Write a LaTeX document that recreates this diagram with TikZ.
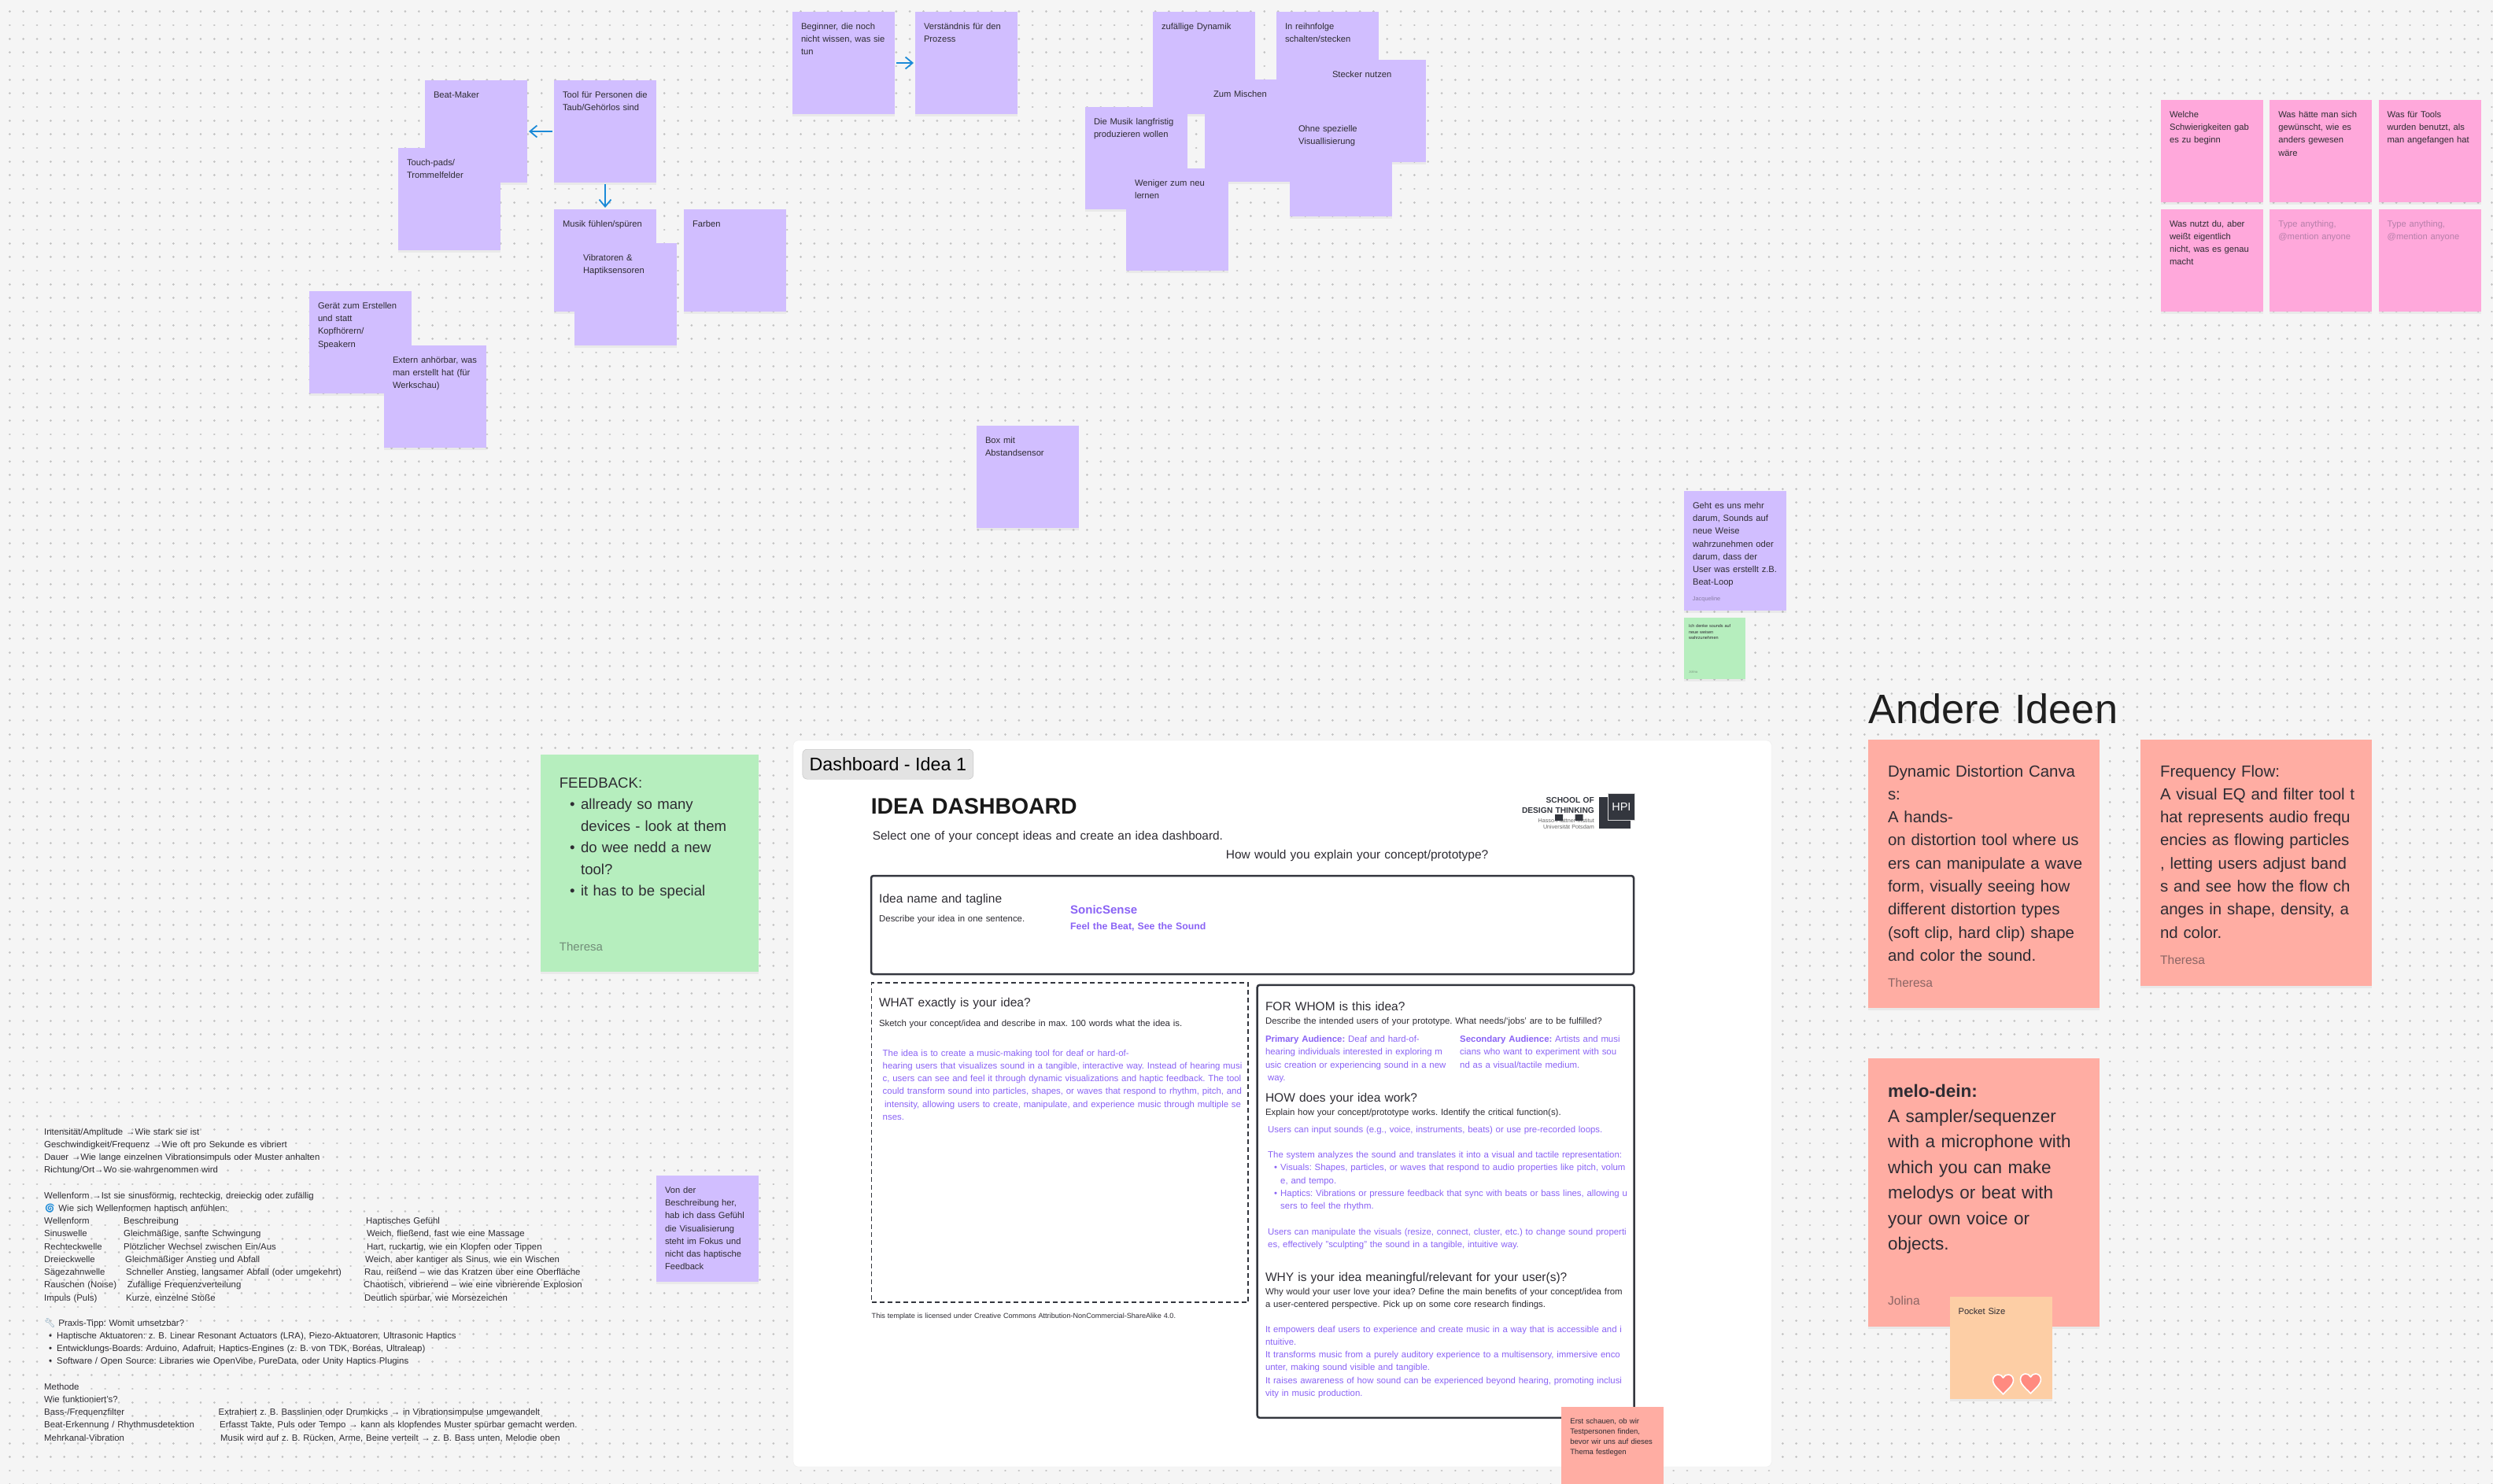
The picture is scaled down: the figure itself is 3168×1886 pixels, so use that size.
\documentclass[tikz,border=0pt]{standalone}
\usepackage{fontspec}
\setmainfont{Liberation Sans}
\newfontfamily\emojifont{Noto Emoji}
\usepackage{tikz}
\usetikzlibrary{arrows.meta, positioning, shadows}
\definecolor{canvas}    {HTML}{F5F5F5}
\definecolor{griddot}   {HTML}{C2C2C2}
\definecolor{lilac}     {HTML}{D1BEFF}
\definecolor{rosa}      {HTML}{FFA8DB}
\definecolor{mint}      {HTML}{B6EEBE}
\definecolor{salmon}    {HTML}{FFADA3}
\definecolor{peach}     {HTML}{FDCEA5}
\definecolor{heartred}  {HTML}{FF8A80}
\definecolor{arrowblue} {HTML}{1B8AD8}
\definecolor{ink}       {HTML}{2E2C33}
\definecolor{panelline} {HTML}{33363E}
\definecolor{violet}    {HTML}{8A63F5}
\definecolor{hint}      {HTML}{B67FAA}
\newcommand{\bulleted}[2]{\hspace*{#1pt}\makebox[#2pt][l]{\textbullet}}
\frenchspacing
\begin{document}
\begin{tikzpicture}[
    x=1pt, y=-1pt,
    dotrow/.style={griddot, line width=2.8pt, line cap=round, dash pattern=on 0.1pt off 17.23pt},
    padtext/.style={execute at begin node={\leftskip=#1pt}},
    sticky/.style={anchor=north west, inner xsep=4pt, inner ysep=0pt, outer sep=0pt,
                text width=122pt, align=left, minimum height=130pt, fill=lilac, text=ink,
                padtext=7, text height=22.5pt, text depth=107.5pt,
                font=\fontsize{11.2}{16.2}\selectfont,
                drop shadow={shadow xshift=0pt, shadow yshift=-3pt, opacity=.1}},
    card/.style={sticky, inner xsep=10pt, text width=274pt, fill=salmon, padtext=15,
                text height=47pt, text depth=294pt,
                font=\fontsize{20.4}{29.33}\selectfont},
    author/.style={anchor=base west, inner sep=0pt, text width=100pt, align=left,
                text=ink!55!salmon, font=\fontsize{15.5}{18}\selectfont},
    txt/.style={anchor=base west, inner sep=0pt, text width=470pt, align=left, text=ink},
    bodytxt/.style={txt, font=\fontsize{11.4}{16.25}\selectfont},
    smalltxt/.style={txt, font=\fontsize{11.4}{16.25}\selectfont},
    headtxt/.style={txt, font=\fontsize{15.5}{18}\selectfont},
    violettxt/.style={smalltxt, text=violet},
    panel/.style={anchor=north west, draw=panelline, line width=2.5pt, rounded corners=3pt,
                inner sep=0pt, outer sep=0pt, fill=white},
    arr/.style={arrowblue, line width=1.8pt, shorten >=2pt, shorten <=2pt,
                -{Straight Barb[length=9pt, width=15pt]}},
    heart/.style={fill=heartred, draw=white, line width=1.6pt, line join=round},
  ]
    \useasboundingbox (0,0) rectangle (3168,1886);
    \fill[canvas] (0,0) rectangle (3168,1886);
    \foreach \r in {0,...,108}
      \draw[dotrow] (12.33,{14.67+17.33*\r}) -- (3168,{14.67+17.33*\r});

    \node[sticky] (beat) at (540,102) {Beat-Maker};
    \node[sticky] (touch) at (506,188) {Touch-pads/\\Trommelfelder};
    \node[sticky] (tool) at (704,102) {Tool für Personen die\\Taub/Gehörlos sind};
    \node[sticky] (musik) at (704,266) {Musik fühlen/spüren};
    \node[sticky] (vibro) at (730,309) {Vibratoren \&\\Haptiksensoren};
    \node[sticky] (farben) at (869,266) {Farben};
    \node[sticky] (geraet) at (393,370) {Gerät zum Erstellen\\und statt\\Kopfhörern/\\Speakern};
    \node[sticky] (extern) at (488,439) {Extern anhörbar, was\\man erstellt hat (für\\Werkschau)};

    \node[sticky] (beginner) at (1007,15) {Beginner, die noch\\nicht wissen, was sie\\tun};
    \node[sticky] (prozess) at (1163,15) {Verständnis für den\\Prozess};
    \node[sticky] (zufall) at (1465,15) {zufällige Dynamik};
    \node[sticky] (reihe) at (1622,15) {In reihnfolge\\schalten/stecken};
    \node[sticky] (stecker) at (1682,76) {Stecker nutzen};
    \node[sticky] (mischen) at (1531,101) {Zum Mischen};
    \node[sticky] (langfrist) at (1379,136) {Die Musik langfristig\\produzieren wollen};
    \node[sticky] (weniger) at (1431,214) {Weniger zum neu\\lernen};
    \node[sticky] (ohne) at (1639,145) {Ohne spezielle\\Visuallisierung};
    \node[sticky] (abstand) at (1241,541) {Box mit\\Abstandsensor};

    \node[sticky, fill=rosa] (welche) at (2746,127) {Welche\\Schwierigkeiten gab\\es zu beginn};
    \node[sticky, fill=rosa, right=8.3pt of welche] (haette) {Was hätte man sich\\gewünscht, wie es\\anders gewesen\\wäre};
    \node[sticky, fill=rosa, right=8.3pt of haette] (tools) {Was für Tools\\wurden benutzt, als\\man angefangen hat};
    \node[sticky, fill=rosa, below=8.7pt of welche] (nutzt) {Was nutzt du, aber\\weißt eigentlich\\nicht, was es genau\\macht};
    \node[sticky, fill=rosa, text=hint, below=8.7pt of haette] (typeone) {Type anything,\\@mention anyone};
    \node[sticky, fill=rosa, text=hint, below=8.7pt of tools] (typetwo) {Type anything,\\@mention anyone};

    \node[sticky, minimum height=152pt, text depth=129.5pt] (mehr) at (2140,624)
      {Geht es uns mehr\\darum, Sounds auf\\neue Weise\\wahrzunehmen oder\\darum, dass der\\User was erstellt z.B.\\Beat-Loop};
    \node[author, text width=50pt, text=ink!45!lilac, font=\fontsize{7.4}{9}\selectfont] (mehrname) at (2150.7,763.5) {Jacqueline};
    \node[sticky, fill=mint, inner xsep=3pt, padtext=3, text width=71.7pt, minimum height=77.5pt, text height=12.5pt, text depth=65pt,
          font=\fontsize{5.5}{7.7}\selectfont] (denke) at (2140,785)
      {Ich denke sounds auf\\neue weisen\\wahrzunehmen};
    \node[author, text width=30pt, text=ink!45!mint, font=\fontsize{4.2}{5}\selectfont] (denkename) at (2146,855) {Jolina};

    \node[txt, text width=400pt, text=black!88, font=\fontsize{52.3}{58}\selectfont] (andere) at (2374,919) {Andere Ideen};
    \node[card] (canvas) at (2374,940)
      {Dynamic Distortion Canva\\s:\\A hands-\\on distortion tool where us\\ers can manipulate a wave\\form, visually seeing how\\different distortion types\\(soft clip, hard clip) shape\\and color the sound.};
    \node[author] (canvasname) at (2399,1254.5) {Theresa};
    \node[card, text depth=266pt] (flow) at (2720,940)
      {Frequency Flow:\\A visual EQ and filter tool t\\hat represents audio frequ\\encies as flowing particles\\, letting users adjust band\\s and see how the flow ch\\anges in shape, density, a\\nd color.};
    \node[author] (flowname) at (2745,1225) {Theresa};
    \node[card, text height=49pt, text depth=292pt, font=\fontsize{22.5}{32.4}\selectfont] (melo) at (2374,1345)
      {\textbf{melo-dein:}\\A sampler/sequenzer\\with a microphone with\\which you can make\\melodys or beat with\\your own voice or\\objects.};
    \node[author] (meloname) at (2399,1658) {Jolina};
    \node[sticky, fill=peach] (pocket) at (2477.5,1648) {Pocket Size};
    \foreach \cx/\cy in {2545.5/1759, 2580.4/1758}
      \draw[heart, shift={(\cx,\cy)}] (0,13) .. controls (-4,8) and (-13,2) .. (-13,-5)
        .. controls (-13,-10) and (-9,-12) .. (-6.5,-12)
        .. controls (-4,-12) and (-1.5,-11) .. (0,-8)
        .. controls (1.5,-11) and (4,-12) .. (6.5,-12)
        .. controls (9,-12) and (13,-10) .. (13,-5)
        .. controls (13,2) and (4,8) .. (0,13) -- cycle;

    \node[sticky, fill=mint, inner xsep=10pt, padtext=13.5, text width=256.7pt, minimum height=276pt,
          text height=42.5pt, text depth=233pt, font=\fontsize{18.6}{27.5}\selectfont] (feedback) at (687.3,958.5)
      {FEEDBACK:\\\bulleted{13.3}{14}allready so many\\\hspace*{27.3pt}devices - look at them\\\bulleted{13.3}{14}do wee nedd a new\\\hspace*{27.3pt}tool?\\\bulleted{13.3}{14}it has to be special};
    \node[author, text=ink!50!mint, font=\fontsize{15}{18}\selectfont] (feedbackname) at (710.7,1208) {Theresa};
    \node[sticky, minimum height=135pt, text depth=112.5pt] (beschreibung) at (834,1494)
      {Von der\\Beschreibung her,\\hab ich dass Gefühl\\die Visualisierung\\steht im Fokus und\\nicht das haptische\\Feedback};

    \node[anchor=north west, minimum width=1243pt, minimum height=923pt, inner sep=0pt, outer sep=0pt,
          fill=white, draw=black!8, rounded corners=6pt] (frame) at (1008,941) {};
    \node[anchor=north west, minimum width=217pt, minimum height=38pt, inner sep=0pt, fill=black!11,
          draw=black!25, rounded corners=6pt, text=black, font=\fontsize{23.3}{26}\selectfont] (pill) at (1019.6,952)
      {Dashboard - Idea 1};
    \node[txt, text width=300pt, text=black!90, font=\bfseries\fontsize{28.4}{34}\selectfont] (title) at (1106.6,1034) {IDEA DASHBOARD};
    \node[txt, text width=460pt, font=\fontsize{15.4}{18}\selectfont] (select) at (1108.7,1067)
      {Select one of your concept ideas and create an idea dashboard.};
    \node[txt, text width=360pt, font=\fontsize{15.5}{18}\selectfont] (explain) at (1557.7,1091)
      {How would you explain your concept/prototype?};

    \node[txt, anchor=base east, text width=100pt, align=right, text=panelline, font=\bfseries\fontsize{10.2}{13}\selectfont] (school) at (2026,1020) {SCHOOL OF\\DESIGN THINKING};
    \node[txt, anchor=base east, text width=100pt, align=right, text=black!60, font=\fontsize{7.2}{8.2}\selectfont] (hasso) at (2026,1045) {Hasso-Plattner-Institut\\Universität Potsdam};
    \fill[panelline] (1976,1035) rectangle (1986,1043) (2001.7,1035) rectangle (2011.7,1043);
    \node[anchor=north west, minimum size=39.5pt, inner sep=0pt, fill=panelline] (logoback) at (2032,1013) {};
    \node[anchor=north west, minimum size=34pt, inner sep=0pt, fill=panelline, draw=black!15, line width=0.8pt,
          text=white, font=\fontsize{14.5}{16}\selectfont] (logofront) at (2043,1007.7) {HPI};

    \node[panel, minimum width=969pt, minimum height=125pt] (namebox) at (1107,1113) {};
    \node[headtxt, text width=230pt] (namehead) at (1117,1147) {Idea name and tagline};
    \node[smalltxt, text width=230pt] (namesub) at (1117,1171) {Describe your idea in one sentence.};
    \node[txt, text width=300pt, text=violet, font=\bfseries\fontsize{15}{18}\selectfont] (sonic) at (1360,1161.5) {SonicSense};
    \node[txt, text width=300pt, text=violet, font=\bfseries\fontsize{12.3}{15}\selectfont] (feel) at (1360,1181) {Feel the Beat, See the Sound};

    \node[panel, fill=white, draw=panelline, line width=1.2pt, dash pattern=on 6pt off 4pt, rounded corners=0pt, minimum width=478.5pt, minimum height=406pt] (whatbox) at (1107.5,1249) {};
    \node[headtxt, text width=460pt] (whathead) at (1116.8,1279) {WHAT exactly is your idea?};
    \node[smalltxt, text width=460pt] (whatsub) at (1116.8,1304) {Sketch your concept/idea and describe in max. 100 words what the idea is.};
    \node[violettxt, text width=462pt] (whatbody) at (1121.5,1342)
      {The idea is to create a music-making tool for deaf or hard-of-\\hearing users that visualizes sound in a tangible, interactive way. Instead of hearing musi\\c, users can see and feel it through dynamic visualizations and haptic feedback. The tool\\could transform sound into particles, shapes, or waves that respond to rhythm, pitch, and\\\hspace*{2.5pt}intensity, allowing users to create, manipulate, and experience music through multiple se\\nses.};
    \node[txt, text width=460pt, font=\fontsize{9.1}{12}\selectfont] (license) at (1107.5,1675)
      {This template is licensed under Creative Commons Attribution-NonCommercial-ShareAlike 4.0.};

    \node[panel, minimum width=479pt, minimum height=550pt] (rightbox) at (1597.7,1251.8) {};
    \node[headtxt, text width=460pt] (whomhead) at (1607.8,1284.6) {FOR WHOM is this idea?};
    \node[smalltxt, text width=462pt] (whomsub) at (1607.8,1301) {Describe the intended users of your prototype. What needs/`jobs' are to be fulfilled?};
    \node[violettxt, text width=240pt] (primary) at (1607.8,1324.5)
      {\textbf{Primary Audience:} Deaf and hard-of-\\hearing individuals interested in exploring m\\usic creation or experiencing sound in a new\\\hspace*{3pt}way.};
    \node[violettxt, text width=215pt] (secondary) at (1855,1324.5)
      {\textbf{Secondary Audience:} Artists and musi\\cians who want to experiment with sou\\nd as a visual/tactile medium.};
    \node[headtxt, text width=460pt] (howhead) at (1607.8,1400) {HOW does your idea work?};
    \node[smalltxt, text width=462pt] (howsub) at (1607.8,1417) {Explain how your concept/prototype works. Identify the critical function(s).};
    \node[violettxt, text width=462pt] (howbody) at (1611,1439)
      {Users can input sounds (e.g., voice, instruments, beats) or use pre-recorded loops.\\[16.25pt]The system analyzes the sound and translates it into a visual and tactile representation:\\\bulleted{8}{8}Visuals: Shapes, particles, or waves that respond to audio properties like pitch, volum\\\hspace*{16pt}e, and tempo.\\\bulleted{8}{8}Haptics: Vibrations or pressure feedback that sync with beats or bass lines, allowing u\\\hspace*{16pt}sers to feel the rhythm.\\[16.25pt]Users can manipulate the visuals (resize, connect, cluster, etc.) to change sound properti\\es, effectively "sculpting" the sound in a tangible, intuitive way.};
    \node[headtxt, text width=460pt] (whyhead) at (1607.8,1628) {WHY is your idea meaningful/relevant for your user(s)?};
    \node[smalltxt, text width=466pt] (whysub) at (1607.8,1645)
      {Why would your user love your idea? Define the main benefits of your concept/idea from\\a user-centered perspective. Pick up on some core research findings.};
    \node[violettxt, text width=462pt] (whybody) at (1607.8,1693)
      {It empowers deaf users to experience and create music in a way that is accessible and i\\ntuitive.\\It transforms music from a purely auditory experience to a multisensory, immersive enco\\unter, making sound visible and tangible.\\It raises awareness of how sound can be experienced beyond hearing, promoting inclusi\\vity in music production.};
    \node[sticky, fill=salmon, text height=21pt, text depth=109pt, font=\fontsize{9.5}{13}\selectfont] (erst) at (1984.4,1788)
      {Erst schauen, ob wir\\Testpersonen finden,\\bevor wir uns auf dieses\\Thema festlegen};

    \node[bodytxt, text width=400pt] (faktoren) at (56,1442)
      {Intensität/Amplitude →Wie stark sie ist\\Geschwindigkeit/Frequenz →Wie oft pro Sekunde es vibriert\\Dauer →Wie lange einzelnen Vibrationsimpuls oder Muster anhalten\\Richtung/Ort→Wo sie wahrgenommen wird};
    \node[bodytxt, text width=400pt] (wellen) at (56,1523)
      {Wellenform →Ist sie sinusförmig, rechteckig, dreieckig oder zufällig\\{\emojifont\color{arrowblue}🌀} Wie sich Wellenformen haptisch anfühlen:};
    \node[bodytxt, text width=100pt] (wavename) at (56,1555.5)
      {Wellenform\\Sinuswelle\\Rechteckwelle\\Dreieckwelle\\Sägezahnwelle\\Rauschen (Noise)\\Impuls (Puls)};
    \node[bodytxt, text width=300pt] (wavedesc) at (157,1555.5)
      {Beschreibung\\Gleichmäßige, sanfte Schwingung\\Plötzlicher Wechsel zwischen Ein/Aus\\\hspace*{2pt}Gleichmäßiger Anstieg und Abfall\\\hspace*{3pt}Schneller Anstieg, langsamer Abfall (oder umgekehrt)\\\hspace*{4.7pt}Zufällige Frequenzverteilung\\\hspace*{3pt}Kurze, einzelne Stöße};
    \node[bodytxt, text width=300pt] (wavefeel) at (462,1555.5)
      {\hspace*{3pt}Haptisches Gefühl\\\hspace*{3.8pt}Weich, fließend, fast wie eine Massage\\\hspace*{3.8pt}Hart, ruckartig, wie ein Klopfen oder Tippen\\\hspace*{2pt}Weich, aber kantiger als Sinus, wie ein Wischen\\\hspace*{1pt}Rau, reißend – wie das Kratzen über eine Oberfläche\\Chaotisch, vibrierend – wie eine vibrierende Explosion\\\hspace*{1pt}Deutlich spürbar, wie Morsezeichen};
    \node[bodytxt, text width=560pt] (praxis) at (56,1685)
      {{\emojifont\color{arrowblue!60!black!60}🔧} Praxis-Tipp: Womit umsetzbar?\\\bulleted{6}{10}Haptische Aktuatoren: z. B. Linear Resonant Actuators (LRA), Piezo-Aktuatoren, Ultrasonic Haptics\\\bulleted{6}{10}Entwicklungs-Boards: Arduino, Adafruit, Haptics-Engines (z. B. von TDK, Boréas, Ultraleap)\\\bulleted{6}{10}Software / Open Source: Libraries wie OpenVibe, PureData, oder Unity Haptics Plugins};
    \node[bodytxt, text width=220pt] (methode) at (56,1766)
      {Methode\\Wie funktioniert's?\\Bass-/Frequenzfilter\\Beat-Erkennung / Rhythmusdetektion\\Mehrkanal-Vibration};
    \node[bodytxt, text width=480pt] (methodetext) at (277.5,1798.5)
      {Extrahiert z. B. Basslinien oder Drumkicks → in Vibrationsimpulse umgewandelt\\\hspace*{1.5pt}Erfasst Takte, Puls oder Tempo → kann als klopfendes Muster spürbar gemacht werden.\\\hspace*{2.5pt}Musik wird auf z. B. Rücken, Arme, Beine verteilt → z. B. Bass unten, Melodie oben};

    \draw[arr] (tool.west) -- (beat.east);
    \draw[arr] (tool.south) -- (musik.north);
    \draw[arr] (beginner.east) -- (prozess.west);
  \end{tikzpicture}
\end{document}
